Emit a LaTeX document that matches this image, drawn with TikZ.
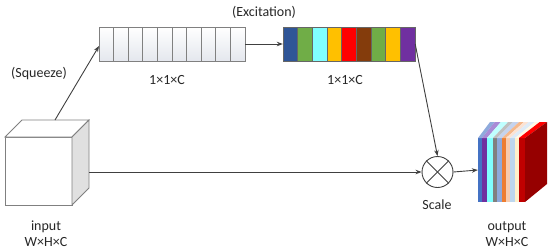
\documentclass[tikz,border=0pt]{standalone}
\usepackage{fontspec}
\setmainfont{Carlito}
\usetikzlibrary{arrows.meta}
\definecolor{lnc}{HTML}{404040}
\definecolor{bdc}{HTML}{808080}
\definecolor{txc}{HTML}{262626}
\definecolor{cellbot}{HTML}{E4E7EE}
\begin{document}
\begin{tikzpicture}[x=1pt,y=-1pt,
  lbl/.style={font=\fontsize{14}{16}\selectfont, text=txc, inner sep=0pt},
  conn/.style={draw=lnc, line width=0.9pt},
  arr/.style={conn, -{Stealth[length=6pt,width=4.5pt]}},
  barbox/.style={rectangle, minimum width=#1, minimum height=34pt, inner sep=0pt},
  cellsq/.style={draw=bdc, line width=0.8pt, top color=white, bottom color=cellbot},
  cellex/.style={draw=lnc!80, line width=0.6pt, fill=#1}]
\useasboundingbox (0,0) rectangle (550,250);

% ---------- squeeze bar ----------
\node[barbox=146pt] (sq) at (172,44) {};
\foreach \i in {0,...,9}
  \path[cellsq] ({99+\i*14.6},27) rectangle ({99+(\i+1)*14.6},61);

% ---------- excitation bar ----------
\node[barbox=132pt] (ex) at (349,44) {};
\foreach \c [count=\i from 0] in {2F5597,70AD47,80FFFF,FFC000,FF0000,843C0C,70AD47,FFC000,7030A0}{
  \definecolor{cc}{HTML}{\c}
  \path[cellex=cc] ({283+\i*14.667},27) rectangle ({283+(\i+1)*14.667},61);
}

% ---------- input cube ----------
\node[rectangle, draw=bdc, line width=0.8pt, fill=white, minimum width=67pt, minimum height=68pt, inner sep=0pt] (inp) at (38.5,171) {};
\path[draw=bdc, line width=0.8pt, fill=white] (5,137) -- (22,120) -- (89,120) -- (72,137) -- cycle;
\path[draw=bdc, line width=0.8pt, fill=black!12] (72,137) -- (89,120) -- (89,188) -- (72,205) -- cycle;
\coordinate (cubetop) at (55,120);
\coordinate (cubeside) at (89,172);

% ---------- scale circle ----------
\node[circle, draw=lnc, line width=0.9pt, fill=white, minimum size=31pt, inner sep=0pt] (sc) at (437.5,172) {};
\draw[conn] (sc.north west) -- (sc.south east);
\draw[conn] (sc.north east) -- (sc.south west);

% ---------- output cube ----------
\foreach \xa/\xb/\cf/\ct in {478/482/4472C4/8FAADC, 482/487/7030A0/A98BD6, 487/493/80FFFF/C0FFFF, 493/497/808080/BFBFBF, 497/502/8EA9DB/C5D3EE, 502/506/ED7D31/F5B88C, 506/510/F8CBAD/FBE3D4, 510/515/BDD7EE/DEEBF7, 515/519/FFF2CC/FFF9E6, 519/525/C00000/FF0000}{
  \definecolor{cf}{HTML}{\cf}
  \definecolor{ct}{HTML}{\ct}
  \fill[cf] (\xa,138) rectangle (\xb,202);
  \fill[ct] (\xa,138) -- (\xb,138) -- ({\xb+12+(\xb-478)*10/47},122) -- ({\xa+12+(\xa-478)*10/47},122) -- cycle;
}
\fill[fill={rgb,255:red,150;green,0;blue,0}] (525,138) -- (547,122) -- (547,184) -- (525,202) -- cycle;
\node[rectangle, minimum width=47pt, minimum height=64pt, inner sep=0pt] (outp) at (501.5,170) {};

% ---------- connectors ----------
\draw[arr] (cubetop) -- (99,46);
\draw[arr] (sq.east) -- (ex.west);
\draw[arr] (cubeside) -- (sc.west);
\draw[arr] (ex.east) -- (sc.north);
\draw[arr] (sc.east) -- (outp.west);

% ---------- labels ----------
\node[lbl] (lexc) at (264,12) {(Excitation)};
\node[lbl] (lsq) at (39,74) {(Squeeze)};
\node[lbl] (d1) at (167,80) {1×1×C};
\node[lbl] (d2) at (345,80) {1×1×C};
\node[lbl] (lin) at (46,227) {input};
\node[lbl] (din) at (46,242) {W×H×C};
\node[lbl] (lscale) at (437,205) {Scale};
\node[lbl] (lout) at (507,227) {output};
\node[lbl] (dout) at (507,242) {W×H×C};
\end{tikzpicture}
\end{document}
